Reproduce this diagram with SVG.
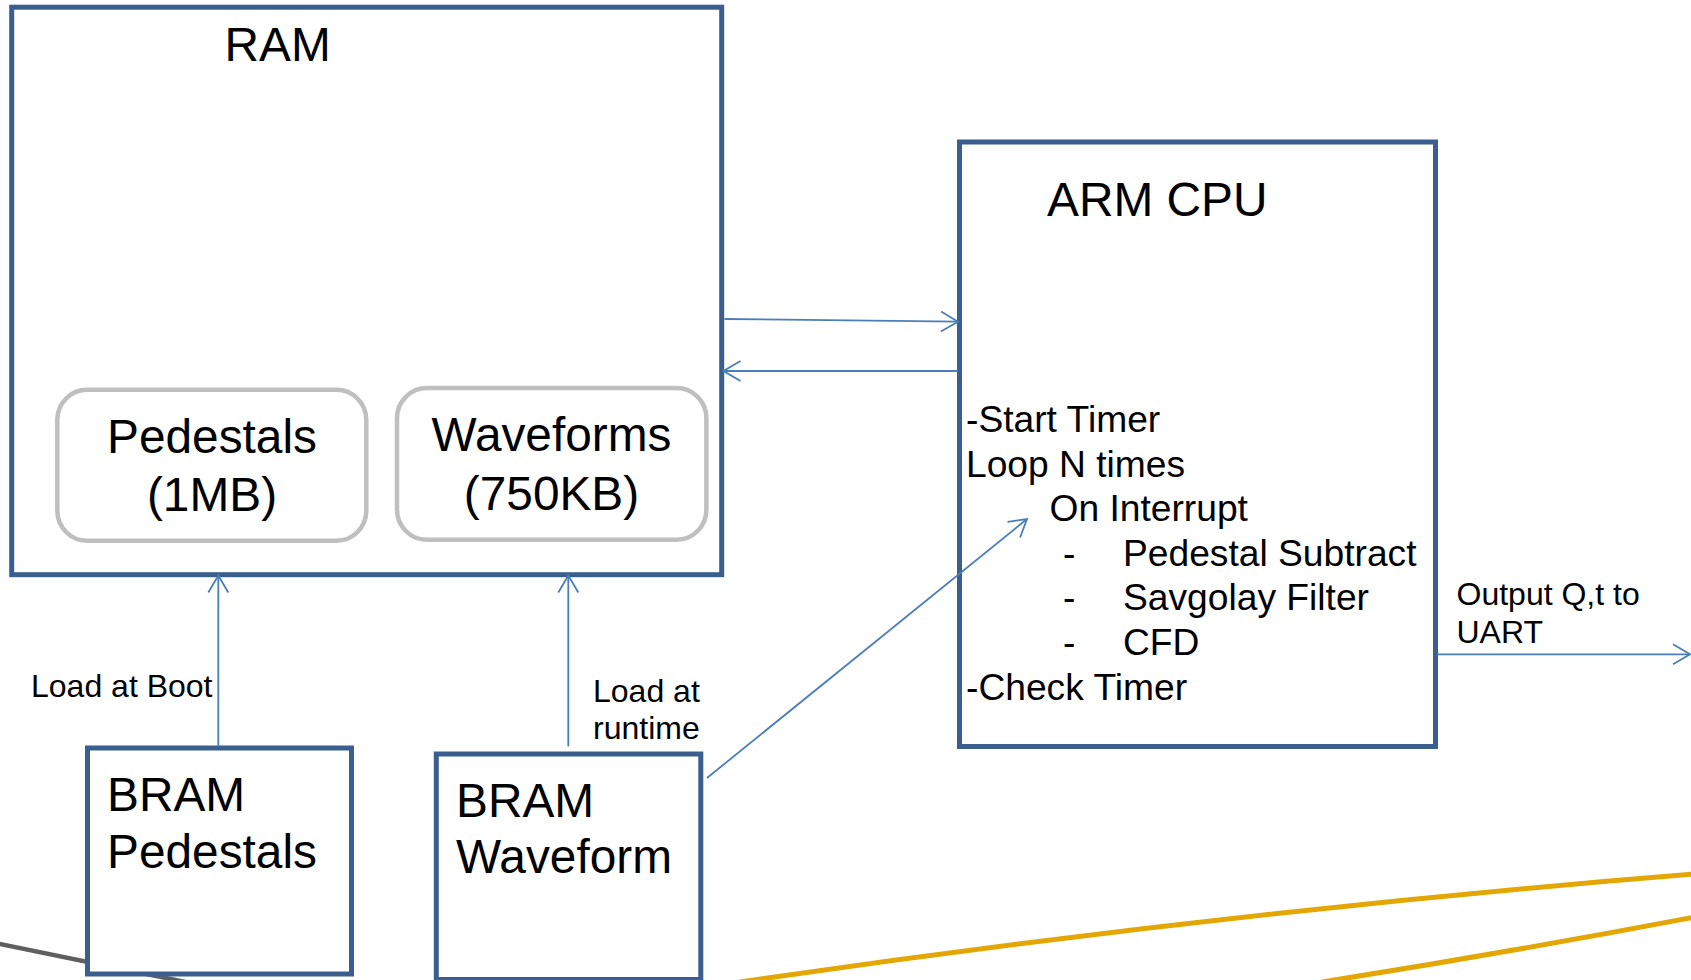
<svg xmlns="http://www.w3.org/2000/svg" width="1691" height="980" viewBox="0 0 1691 980">
  <defs>
    <style>
      .box { fill: #ffffff; stroke: #3a5f8f; stroke-width: 5; }
      .mem { fill: #ffffff; stroke: #bfbfbf; stroke-width: 4.5; }
      .conn { fill: none; stroke: #4a7ebb; stroke-width: 1.8; }
      .big { font-family: "Liberation Sans", Arial, sans-serif; font-size: 47.8px; fill: #000000; }
      .mid { font-family: "Liberation Sans", Arial, sans-serif; font-size: 37.2px; fill: #000000; }
      .small { font-family: "Liberation Sans", Arial, sans-serif; font-size: 32px; fill: #000000; }
      .deco-gold { fill: none; stroke: #e3a602; stroke-width: 5; }
      .deco-gray { fill: none; stroke: #5f5f5f; stroke-width: 4.5; }
    </style>
    <marker id="arrow" markerUnits="userSpaceOnUse" viewBox="-20 -13 22 26" markerWidth="22" markerHeight="26" refX="0" refY="0" orient="auto">
      <path d="M-17,-10 L0,0 L-17,10" fill="none" stroke="#4a7ebb" stroke-width="1.8"/>
    </marker>
  </defs>

  <rect width="1691" height="980" fill="#ffffff"/>

  <!-- decorative lines -->
  <g id="decorations">
    <path class="deco-gray" d="M-5,943 L200,985"/>
    <path class="deco-gold" d="M740,982 Q1219,912 1695,874"/>
    <path class="deco-gold" d="M1322,982 Q1505,953 1695,917"/>
  </g>

  <g id="node-ram">
    <rect class="box" x="11.7" y="7.2" width="710" height="567.5"/>
    <text class="big" x="224.5" y="61">RAM</text>
  </g>

  <g id="node-pedestals">
    <rect class="mem" x="57.3" y="389.8" width="309" height="151" rx="30" ry="30"/>
    <text class="big" x="212" y="453" text-anchor="middle">Pedestals</text>
    <text class="big" x="212" y="511" text-anchor="middle">(1MB)</text>
  </g>

  <g id="node-waveforms">
    <rect class="mem" x="397" y="388" width="309.4" height="151.8" rx="30" ry="30"/>
    <text class="big" x="551.5" y="451" text-anchor="middle">Waveforms</text>
    <text class="big" x="551.5" y="510" text-anchor="middle">(750KB)</text>
  </g>

  <g id="node-arm-cpu">
    <rect class="box" x="959.5" y="142" width="476" height="604.5"/>
    <text class="big" x="1047" y="216">ARM CPU</text>
    <text class="mid" x="966" y="432">-Start Timer</text>
    <text class="mid" x="966" y="476.5">Loop N times</text>
    <text class="mid" x="1049.5" y="521">On Interrupt</text>
    <text class="mid" x="1063" y="565.7">-</text>
    <text class="mid" x="1123" y="565.7">Pedestal Subtract</text>
    <text class="mid" x="1063" y="610.3">-</text>
    <text class="mid" x="1123" y="610.3">Savgolay Filter</text>
    <text class="mid" x="1063" y="654.9">-</text>
    <text class="mid" x="1123" y="654.9">CFD</text>
    <text class="mid" x="966" y="699.5">-Check Timer</text>
  </g>

  <g id="node-bram-pedestals">
    <rect class="box" x="87.5" y="748" width="264" height="226"/>
    <text class="big" x="107" y="810.7">BRAM</text>
    <text class="big" x="107" y="867.7">Pedestals</text>
  </g>

  <g id="node-bram-waveform">
    <rect class="box" x="436.3" y="754" width="264.5" height="225.5"/>
    <text class="big" x="456" y="816.7">BRAM</text>
    <text class="big" x="456" y="873.3">Waveform</text>
  </g>

  <g id="connectors">
    <line class="conn" x1="724.5" y1="319" x2="958" y2="321.7" marker-end="url(#arrow)"/>
    <line class="conn" x1="958" y1="371" x2="723.5" y2="371" marker-end="url(#arrow)"/>
    <line class="conn" x1="218.3" y1="746.5" x2="218.3" y2="575.5" marker-end="url(#arrow)"/>
    <line class="conn" x1="568.3" y1="746.5" x2="568.3" y2="575.5" marker-end="url(#arrow)"/>
    <line class="conn" x1="707" y1="778" x2="1027" y2="519" marker-end="url(#arrow)"/>
    <line class="conn" x1="1437" y1="654.3" x2="1690" y2="654.3" marker-end="url(#arrow)"/>
    <text class="small" x="31" y="697">Load at Boot</text>
    <text class="small" x="593" y="702">Load at</text>
    <text class="small" x="593" y="738.5">runtime</text>
    <text class="small" x="1456.5" y="605">Output Q,t to</text>
    <text class="small" x="1456.5" y="643.3">UART</text>
  </g>
</svg>
